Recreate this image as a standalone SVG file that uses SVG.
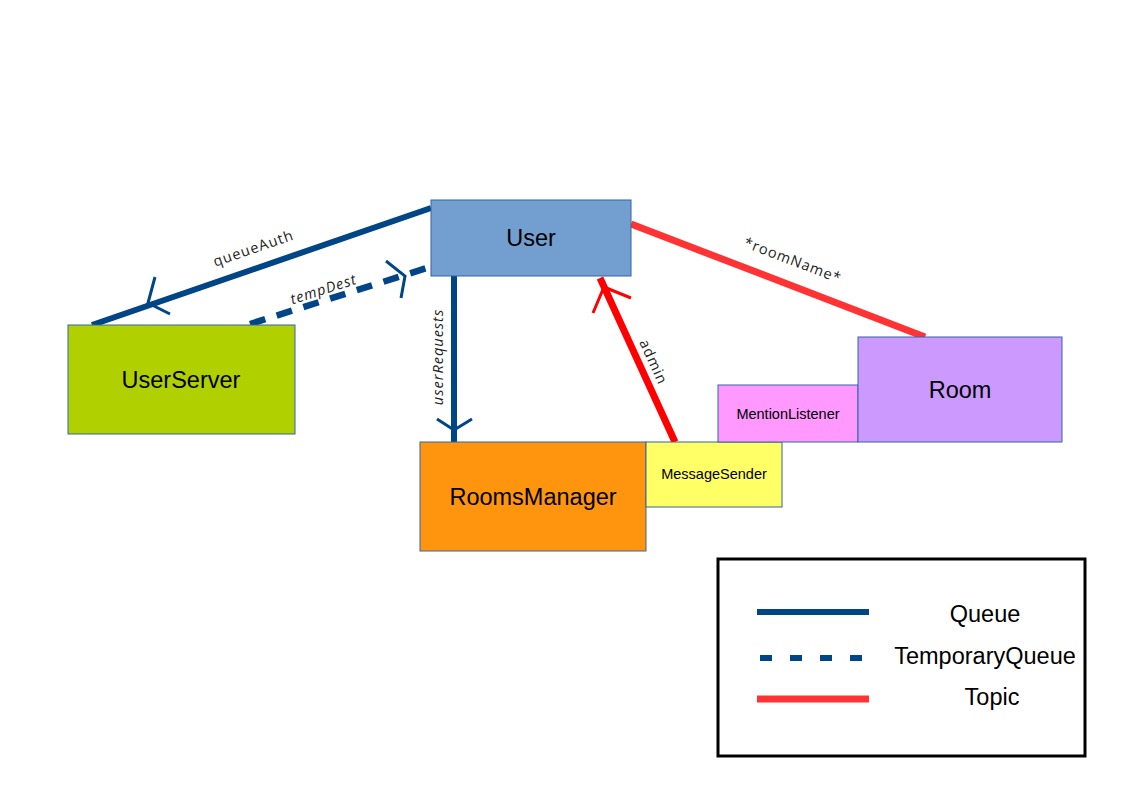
<svg xmlns="http://www.w3.org/2000/svg" width="1123" height="794" viewBox="0 0 1123 794">
<style>
.node{stroke:#3465a4;stroke-width:1}
.big{font-family:"Liberation Sans",Arial,sans-serif;font-size:23.5px;fill:#000;text-anchor:middle;dominant-baseline:central}
.small{font-family:"Liberation Sans",Arial,sans-serif;font-size:14.5px;fill:#000;text-anchor:middle;dominant-baseline:central}
.lbl{font-family:"Open Sans","DejaVu Sans",sans-serif;font-size:14.5px;fill:#222;text-anchor:middle;letter-spacing:1px}
.q{stroke:#004586;stroke-width:6;fill:none}
.tq{stroke:#004586;stroke-width:6.5;fill:none;stroke-dasharray:16 12}
.t{stroke:#ff0000;stroke-width:7;fill:none}
.t2{stroke:#ff3333;stroke-width:7;fill:none}
.ah{stroke-width:3;fill:none}
</style>
<rect width="1123" height="794" fill="#fff"/>
<g id="connectors">
  <line class="q" x1="431" y1="208" x2="92" y2="325"/>
  <polyline class="ah" stroke="#004586" points="155,277 148,303 170,314"/>
  <line class="tq" x1="250" y1="324" x2="430" y2="267"/>
  <polyline class="ah" stroke="#004586" points="386,261 405,276 401,298"/>
  <line class="q" x1="454" y1="276" x2="454" y2="442"/>
  <polyline class="ah" stroke="#004586" points="437,419 454,430 472,419"/>
  <line class="t" x1="675" y1="442" x2="600" y2="278"/>
  <polyline class="ah" stroke="#ff0000" points="593,313 604,287 631,298"/>
  <line class="t2" x1="631" y1="224" x2="925" y2="337"/>
  <text class="lbl" transform="translate(255,253) rotate(-19)">queueAuth</text>
  <text class="lbl" font-style="italic" transform="translate(325,294) rotate(-17.7)">tempDest</text>
  <text class="lbl" font-style="italic" transform="translate(443,357) rotate(-90)">userRequests</text>
  <text class="lbl" transform="translate(649,364) rotate(65.4)">admin</text>
  <text class="lbl" transform="translate(791,265) rotate(21)">*roomName*</text>
</g>
<g id="User">
  <rect class="node" x="431" y="200" width="200" height="76" fill="#729fcf"/>
  <text class="big" x="531" y="238">User</text>
</g>
<g id="UserServer">
  <rect class="node" x="68" y="325" width="227" height="109" fill="#b0d000" stroke="#6d8a00"/>
  <text class="big" x="181" y="380">UserServer</text>
</g>
<g id="RoomsManager">
  <rect class="node" x="420" y="442" width="226" height="109" fill="#ff950e"/>
  <text class="big" x="533" y="497">RoomsManager</text>
</g>
<g id="MessageSender">
  <rect class="node" x="646" y="442" width="136" height="65" fill="#ffff66"/>
  <text class="small" x="714" y="474">MessageSender</text>
</g>
<g id="MentionListener">
  <rect class="node" x="718" y="385" width="140" height="57" fill="#ff99ff"/>
  <text class="small" x="788" y="414">MentionListener</text>
</g>
<g id="Room">
  <rect class="node" x="858" y="337" width="204" height="105" fill="#cc99ff"/>
  <text class="big" x="960" y="390">Room</text>
</g>
<g id="Legend">
  <rect x="718" y="559" width="367" height="197" fill="none" stroke="#000" stroke-width="3"/>
  <line class="q" x1="757" y1="612" x2="869" y2="612"/>
  <line x1="760" y1="658" x2="865" y2="658" stroke="#004586" stroke-width="6" stroke-dasharray="12 18"/>
  <line class="t2" x1="757" y1="699" x2="869" y2="699"/>
  <text class="big" x="985" y="614">Queue</text>
  <text class="big" x="985" y="656">TemporaryQueue</text>
  <text class="big" x="992" y="697">Topic</text>
</g>
</svg>
